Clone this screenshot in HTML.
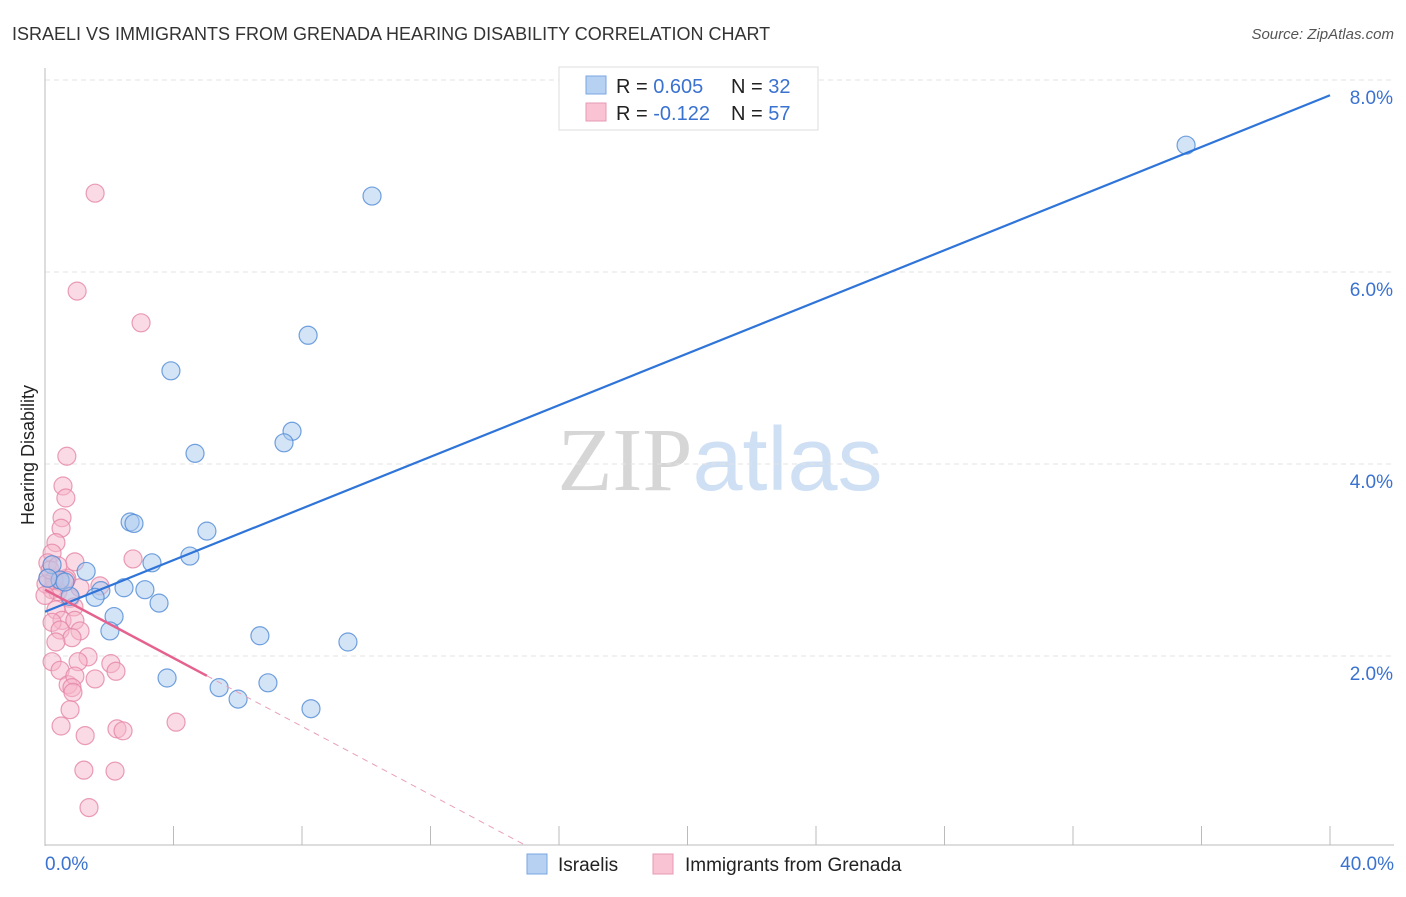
<!DOCTYPE html>
<html><head><meta charset="utf-8"><style>
body{margin:0;background:#fff;font-family:"Liberation Sans",sans-serif;}
svg text{font-family:"Liberation Sans",sans-serif;}
</style></head><body>
<svg id="chart" width="1406" height="892" xmlns="http://www.w3.org/2000/svg">
<text x="12" y="40" font-size="18" fill="#333">ISRAELI VS IMMIGRANTS FROM GRENADA HEARING DISABILITY CORRELATION CHART</text>
<text x="1394" y="39" font-size="15" fill="#555" font-style="italic" text-anchor="end">Source: ZipAtlas.com</text>
<text x="720" y="490" font-size="90" text-anchor="middle"><tspan fill="#d6d6d6" font-family="Liberation Serif">ZIP</tspan><tspan fill="#cfe0f5">atlas</tspan></text>
<g id="grid"></g>
<g id="axes"></g>
<g id="pink"></g>
<g id="blue"></g>
<g id="trends"></g>
<text transform="translate(34,455) rotate(-90)" font-size="18" fill="#222" text-anchor="middle">Hearing Disability</text>
<g>
<rect x="559" y="67" width="259" height="63" fill="#fff" stroke="#ddd"/>
<rect x="586" y="76" width="20" height="18" fill="#b7d1f3" stroke="#7aa6e0"/>
<rect x="586" y="103" width="20" height="18" fill="#f9c3d3" stroke="#e79ab4"/>
<text x="616" y="93" font-size="20" fill="#222">R = <tspan fill="#3a72d0">0.605</tspan><tspan x="731">N = </tspan><tspan fill="#3a72d0">32</tspan></text>
<text x="616" y="120" font-size="20" fill="#222">R = <tspan fill="#3a72d0">-0.122</tspan><tspan x="731">N = </tspan><tspan fill="#3a72d0">57</tspan></text>
</g>
<g>
<rect x="527" y="854" width="20" height="20" fill="#b7d1f3" stroke="#7aa6e0"/>
<text x="558" y="871" font-size="19" fill="#222">Israelis</text>
<rect x="653" y="854" width="20" height="20" fill="#f9c3d3" stroke="#e79ab4"/>
<text x="685" y="871" font-size="19" fill="#222">Immigrants from Grenada</text>
</g>
</svg>
<script>
const yTicks=[2,4,6,8];
const yTickLabels=["2.0%","4.0%","6.0%","8.0%"];
const xTickLabels=["0.0%","40.0%"];
const blueX=[35.52,10.18,8.19,3.92,7.69,7.44,4.67,2.65,2.77,5.04,3.33,4.51,1.28,2.46,1.74,3.11,1.56,3.55,2.15,2.02,6.69,9.43,3.80,5.42,6.94,6.01,8.28,0.22,0.47,0.09,0.78,0.62];
const blueY=[7.30,6.77,5.32,4.95,4.32,4.20,4.09,3.375,3.36,3.28,2.95,3.02,2.86,2.69,2.66,2.67,2.59,2.53,2.39,2.24,2.19,2.125,1.75,1.65,1.70,1.53,1.43,2.93,2.77,2.79,2.60,2.75];
const pinkX=[1.56,1.00,2.99,0.68,0.56,0.65,0.53,0.50,0.34,0.22,0.09,0.93,2.74,0.09,0.31,0.47,0.68,0.22,0.40,0.78,1.09,0.90,0.34,0.53,0.93,0.22,0.47,1.09,0.84,0.34,1.34,0.22,1.03,2.05,2.21,0.47,0.72,0.93,1.56,0.84,0.87,0.78,0.50,1.25,2.24,2.43,4.08,1.21,2.18,1.37,0.28,0.03,0.16,0.0,0.65,0.40,1.71];
const pinkY=[6.80,5.78,5.45,4.06,3.75,3.625,3.42,3.31,3.16,3.05,2.95,2.96,2.99,2.79,2.79,2.75,2.79,2.67,2.65,2.58,2.69,2.49,2.46,2.35,2.35,2.33,2.25,2.24,2.17,2.125,1.97,1.92,1.92,1.90,1.82,1.83,1.68,1.77,1.74,1.65,1.60,1.42,1.25,1.15,1.22,1.20,1.29,0.79,0.78,0.40,2.77,2.73,2.875,2.61,2.77,2.92,2.71];
const blueTrend=[2.44,0.1345];
const pinkTrend=[2.67,-0.178];
const pinkSolidEnd=5.04;
const NS="http://www.w3.org/2000/svg";
const sx=v=>45+v/40*1285, sy=v=>846-v*96;
function mk(tag,attrs,parent){const e=document.createElementNS(NS,tag);for(const k in attrs)e.setAttribute(k,attrs[k]);parent.appendChild(e);return e;}
const grid=document.getElementById('grid'),axes=document.getElementById('axes');
yTicks.forEach((t,i)=>{
 const l=mk('line',{x1:45,x2:1394,y1:sy(t)+2,y2:sy(t)+2,stroke:'#e3e3e3','stroke-dasharray':'5,4'},grid);
 
 
 const tx=mk('text',{x:1393,y:sy(t)+26,'font-size':19,fill:'#3a72d0','text-anchor':'end'},axes);
 tx.textContent=yTickLabels[i];
 
 
});
mk('line',{x1:45,x2:45,y1:68,y2:846,stroke:'#bbb'},axes);
mk('line',{x1:45,x2:1394,y1:845,y2:845,stroke:'#bbb'},axes);
for(let i=0;i<=10;i++){const x=sx(i*4);const t=mk('line',{x1:x,x2:x,y1:826,y2:845,stroke:'#bbb'},axes);}
[[0,'start',45],[1,'end',1394]].forEach(([i,a,x])=>{const t=mk('text',{x:x,y:870,'font-size':19,fill:'#3a72d0','text-anchor':a},axes);t.textContent=xTickLabels[i];});
function dots(X,Y,g,fill,stroke,name){X.forEach((x,i)=>{const c=mk('circle',{cx:sx(x),cy:sy(Y[i]),r:9,fill:fill,'fill-opacity':0.5,stroke:stroke,'stroke-width':1.2,'stroke-opacity':0.8},g);});}
dots(pinkX,pinkY,document.getElementById('pink'),'#f6b6ca','#e584a6','grenada-point');
dots(blueX,blueY,document.getElementById('blue'),'#aac9ef','#4f8ad6','israeli-point');
const tr=document.getElementById('trends');
const bl=mk('line',{x1:sx(0),y1:sy(blueTrend[0]),x2:sx(40),y2:sy(blueTrend[0]+40*blueTrend[1]),stroke:'#2f74d8','stroke-width':2.2},tr);


const pl=mk('line',{x1:sx(0),y1:sy(pinkTrend[0]),x2:sx(pinkSolidEnd),y2:sy(pinkTrend[0]+pinkSolidEnd*pinkTrend[1]),stroke:'#e5628f','stroke-width':2.5},tr);


const xe=-pinkTrend[0]/pinkTrend[1];
const pd=mk('line',{x1:sx(pinkSolidEnd),y1:sy(pinkTrend[0]+pinkSolidEnd*pinkTrend[1]),x2:sx(xe),y2:sy(0),stroke:'#e9a0b8','stroke-width':1,'stroke-dasharray':'6,5'},tr);


</script>
</body></html>
